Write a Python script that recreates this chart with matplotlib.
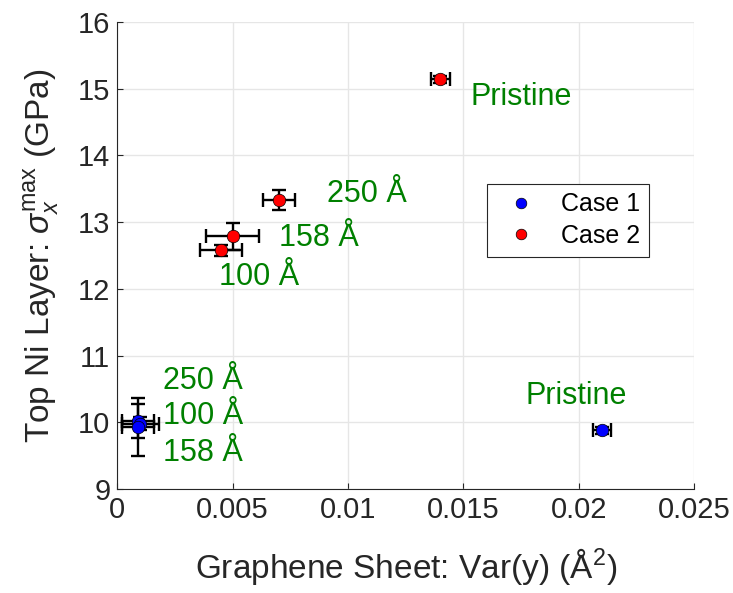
import numpy as np
from matplotlib import pyplot as plt

plt.rcParams['font.family'] = ['Liberation Sans', 'DejaVu Sans']
plt.rcParams['mathtext.fontset'] = 'custom'
plt.rcParams['mathtext.rm'] = 'Liberation Sans'
plt.rcParams['mathtext.it'] = 'Liberation Sans:italic'

# case 1: 250, 100, 158, pristine
c1_x = [0.0009, 0.001, 0.0009, 0.021]
c1_y = [10.02, 9.98, 9.93, 9.88]
c1_xerr = [0.0007, 0.0008, 0.0007, 0.0004]
c1_yerr = [0.26, 0.1, 0.43, 0.05]

# case 2: 250, 158, 100, pristine
c2_x = [0.007, 0.005, 0.0045, 0.014]
c2_y = [13.33, 12.79, 12.58, 15.14]
c2_xerr = [0.0007, 0.00115, 0.0009, 0.0004]
c2_yerr = [0.15, 0.2, 0.08, 0.05]

labels1 = ["250 Å", "100 Å", "158 Å", "Pristine"]
lab1_x = [0.002, 0.002, 0.002, 0.0177]
lab1_y = [10.62, 10.09, 9.55, 10.39]
labels2 = ["250 Å", "158 Å", "100 Å", "Pristine"]
lab2_x = [0.0091, 0.007, 0.0044, 0.0153]
lab2_y = [13.43, 12.76, 12.18, 14.87]

green = '#008000'

fig = plt.figure(figsize=(7.33, 5.93), dpi=100)
ax = fig.add_axes([0.16, 0.175, 0.787, 0.788])

ax.errorbar(c1_x, c1_y, xerr=c1_xerr, yerr=c1_yerr, fmt='none', ecolor='black',
            elinewidth=1.7, capsize=5, capthick=1.7, zorder=2)
ax.errorbar(c2_x, c2_y, xerr=c2_xerr, yerr=c2_yerr, fmt='none', ecolor='black',
            elinewidth=1.7, capsize=5, capthick=1.7, zorder=2)
ax.plot(c1_x, c1_y, 'o', color='blue', markeredgecolor='black', markeredgewidth=0.5,
        markersize=9, zorder=3, label='Case 1')
ax.plot(c2_x, c2_y, 'o', color='red', markeredgecolor='black', markeredgewidth=0.5,
        markersize=9, zorder=3, label='Case 2')

for t, x, y in zip(labels1, lab1_x, lab1_y):
    ax.text(x, y, t, color=green, fontsize=22, va='center', ha='left')
for t, x, y in zip(labels2, lab2_x, lab2_y):
    ax.text(x, y, t, color=green, fontsize=22, va='center', ha='left')

ax.set_xlim(0, 0.025)
ax.set_ylim(9, 16)
ax.set_xticks([0, 0.005, 0.01, 0.015, 0.02, 0.025])
ax.set_xticklabels(['0', '0.005', '0.01', '0.015', '0.02', '0.025'])
ax.set_yticks(np.arange(9, 17, 1))
ax.tick_params(labelsize=21, direction='in', length=4, colors='#262626', pad=5)
ax.grid(True, color='#e6e6e6', linewidth=1)
ax.set_axisbelow(True)
for s in ['top', 'right']:
    ax.spines[s].set_visible(False)
for s in ['left', 'bottom']:
    ax.spines[s].set_color('#262626')

ax.set_xlabel(r'Graphene Sheet: Var(y) (Å$^2$)', fontsize=24, color='#262626', labelpad=16)
ax.set_ylabel(r'Top Ni Layer: $\it{\sigma}_x^{\rm max}$ (GPa)', fontsize=24, color='#262626',
              labelpad=12)

leg = ax.legend(loc='upper left', bbox_to_anchor=(0.62, 0.681), fontsize=18,
                fancybox=False, edgecolor='#262626', framealpha=1, handletextpad=0.6,
                markerscale=0.85, borderpad=0.35, labelspacing=0.3)
leg.get_frame().set_linewidth(0.8)

plt.savefig('out.png', dpi=100)
